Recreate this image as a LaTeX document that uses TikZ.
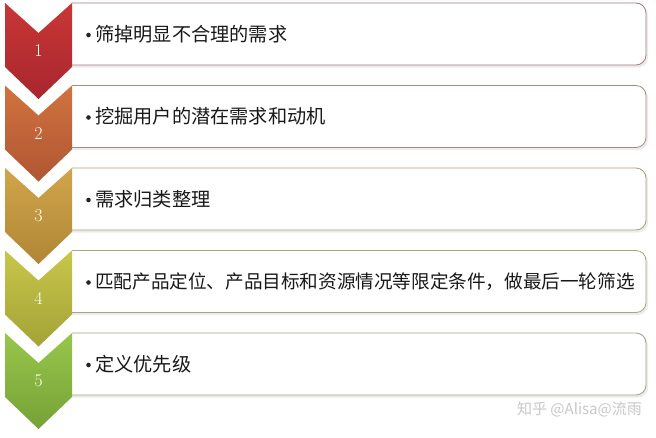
\documentclass[tikz,border=0pt]{standalone}
\usepackage{fontspec}
\newfontfamily\cjk{Noto Sans CJK SC}
\usetikzlibrary{calc}
\definecolor{cA}{RGB}{200,55,55}
\definecolor{cAd}{RGB}{168,38,45}
\definecolor{cB}{RGB}{208,115,64}
\definecolor{cBd}{RGB}{176,86,50}
\definecolor{cC}{RGB}{208,165,74}
\definecolor{cCd}{RGB}{176,134,55}
\definecolor{cD}{RGB}{200,198,74}
\definecolor{cDd}{RGB}{163,163,55}
\definecolor{cE}{RGB}{152,198,74}
\definecolor{cEd}{RGB}{118,162,55}
\definecolor{wm}{RGB}{200,200,200}
\tikzset{
  itembox/.style={draw=#1!45!gray!80, line width=0.8pt, fill=white},
  shadowbox/.style={draw=none, fill=gray!15},
  numtext/.style={text=white, font=\fontsize{18}{20}\selectfont, inner sep=0pt},
  itemtext/.style={anchor=west, inner sep=0pt, font=\cjk\fontsize{19.2}{21}\selectfont, text=black!90},
}
\newcommand{\stepitem}[5]{%
  \path[shadowbox] (72,#2+2) [rounded corners=10pt] -- (648,#2+2) -- (648,#2+64.5) [sharp corners] -- (72,#2+64.5) -- cycle;
  \path[itembox=#4] (72,#2) [rounded corners=10pt] -- (646,#2) -- (646,#2+62) [sharp corners] -- (72,#2+62);
  \shade[top color=#3, bottom color=#4]
    (5,#2) -- (38.5,#2+30) -- (72,#2) -- (72,#2+64) -- (38.5,#2+96) -- (5,#2+64) -- cycle;
  \node[numtext] (n#1) at (38.5,#2+48) {#1};
  \fill[black!85] (88.5,#2+32) circle (2.3);
  \node[itemtext] (t#1) at (95,#2+31) {#5};
}
\begin{document}
\begin{tikzpicture}[x=1pt,y=-1pt]
\useasboundingbox (0,0) rectangle (656,437);
\fill[white] (0,0) rectangle (656,437);
\stepitem{1}{3}{cA}{cAd}{筛掉明显不合理的需求}
\stepitem{2}{85.5}{cB}{cBd}{挖掘用户的潜在需求和动机}
\stepitem{3}{168}{cC}{cCd}{需求归类整理}
\stepitem{4}{250.5}{cD}{cDd}{\fontsize{18.6}{21}\selectfont 匹配产品定位、产品目标和资源情况等限定条件，做最后一轮筛选}
\stepitem{5}{333}{cE}{cEd}{定义优先级}
\node[anchor=east, inner sep=0pt, text=wm, font=\cjk\fontsize{15}{16}\selectfont] (wmk) at (642,409) {知乎 @Alisa@流雨};
\end{tikzpicture}
\end{document}
